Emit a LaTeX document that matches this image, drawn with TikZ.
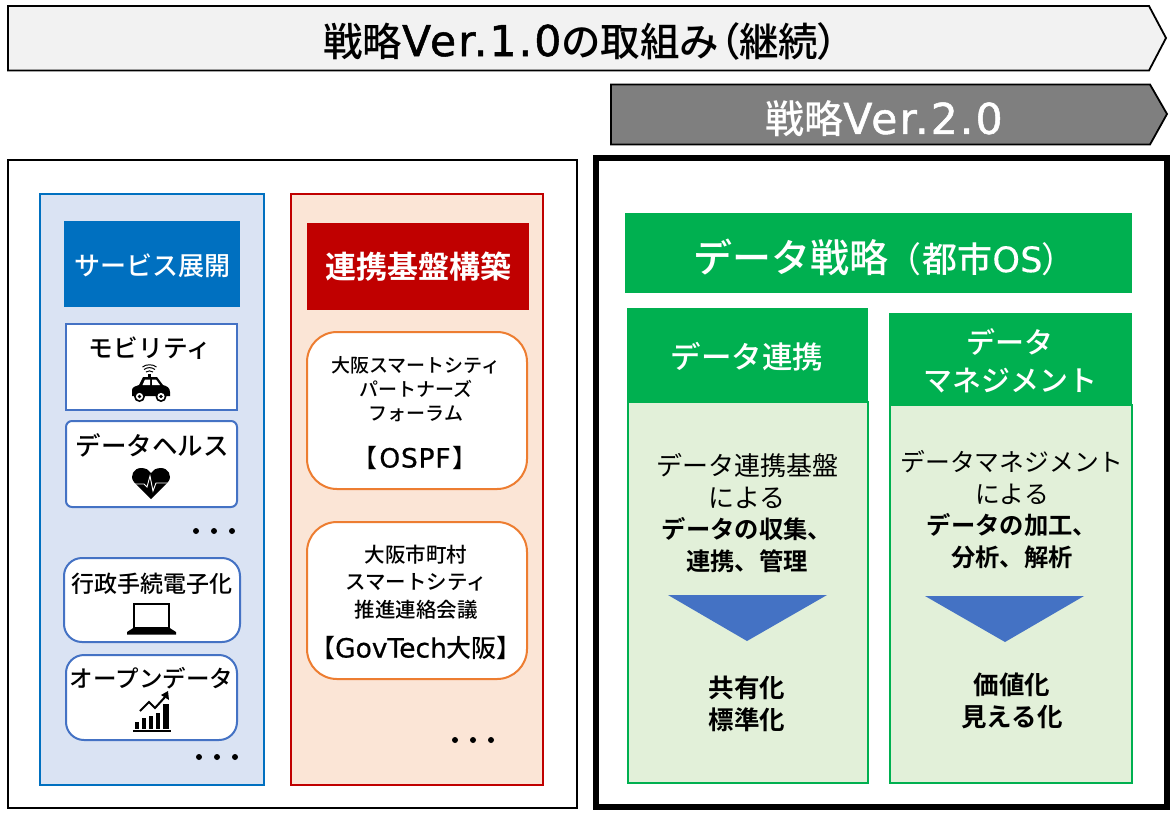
\documentclass[tikz,border=0pt]{standalone}
\usepackage{fontspec}
\setmainfont{Noto Sans CJK JP}[BoldFont={Noto Sans CJK JP Bold}]
\newfontfamily\medf{Noto Sans CJK JP Medium}
\newfontfamily\medp{Noto Sans CJK JP Medium}[RawFeature=+palt]
\newfontfamily\regp{Noto Sans CJK JP}[RawFeature=+palt]
\newfontfamily\latf{DejaVu Sans}[LetterSpace=5,FakeBold=1.2]
\newfontfamily\latg{DejaVu Sans}[LetterSpace=0,FakeBold=0.7]
\newfontfamily\lath{DejaVu Sans}[LetterSpace=3,FakeBold=0.7]
\newfontfamily\lati{DejaVu Sans}[LetterSpace=1,FakeBold=0.3]
\definecolor{bluepanel}{HTML}{DAE3F3}
\definecolor{blueedge}{HTML}{0070C0}
\definecolor{boxedge}{HTML}{4472C4}
\definecolor{redpanel}{HTML}{FBE5D6}
\definecolor{rededge}{HTML}{C00000}
\definecolor{orangeedge}{HTML}{ED7D31}
\definecolor{greenmain}{HTML}{00B050}
\definecolor{greenbody}{HTML}{E2F0D9}
\definecolor{arrowlight}{HTML}{F2F2F2}
\definecolor{arrowdark}{HTML}{7F7F7F}
\tikzset{
  txt/.style={inner sep=0pt,outer sep=0pt,align=center,text=black},
  lbl/.style={txt,font=\fontsize{#1}{#1}\selectfont\medf},
  dotm/.style={circle,fill=black,inner sep=0pt,minimum size=6pt},
  ibox/.style={draw=boxedge,line width=2pt,fill=white},
  obox/.style={draw=orangeedge,line width=2pt,fill=white,rounded corners=30pt},
}
\begin{document}
\begin{tikzpicture}[x=1pt,y=-1pt]
\useasboundingbox (0,0) rectangle (1172,815);
\fill[white] (0,0) rectangle (1172,815);
% top arrows
\draw[fill=arrowlight,line width=1.8pt] (8,6) -- (1149,6) -- (1166,38) -- (1149,70.5) -- (8,70.5) -- cycle;
\node[lbl=39.5] (t1) at (580.5,41) {戦略{\fontsize{42.5}{42.5}\selectfont\latf Ver.1.0}の取組み{\medp （}継続{\medp ）}};
\draw[fill=arrowdark,line width=1.8pt] (611,84.5) -- (1150,84.5) -- (1167,114) -- (1150,144.5) -- (611,144.5) -- cycle;
\node[lbl=39,text=white] (t2) at (884,119) {戦略{\fontsize{42.5}{42.5}\selectfont\latf Ver.2.0}};
% frames
\draw[line width=1.8pt] (8,160) rectangle (577,808);
\draw[line width=6pt] (596,158) rectangle (1167,807);
% blue panel
\draw[draw=blueedge,fill=bluepanel,line width=2pt] (40,193.5) rectangle (264,785);
\node[fill=blueedge,minimum width=176pt,minimum height=86pt,inner sep=0pt,text=white,font=\fontsize{26}{26}\selectfont\medf,text depth=0pt] (svc) at (152,264) {\raisebox{-2pt}{サービス展開}};
\draw[ibox] (66,323.5) rectangle (237,410);
\node[lbl=24.7] (mob) at (150,348) {モビリティ};
\draw[ibox,rounded corners=6pt] (66,421) rectangle (237,507);
\node[lbl=25.5] (dh) at (152,445) {データヘルス};
\node[dotm] (d1) at (196,531) {};
\node[dotm] (d2) at (214,531) {};
\node[dotm] (d3) at (232,531) {};
\draw[ibox,rounded corners=18pt] (64,558) rectangle (240,642);
\node[lbl=23] (gov) at (152,584) {行政手続電子化};
\draw[ibox,rounded corners=18pt] (66,655) rectangle (237,740);
\node[lbl=23.5] (od) at (151.5,678) {オープンデータ};
\node[dotm] (d4) at (199,757) {};
\node[dotm] (d5) at (217,757) {};
\node[dotm] (d6) at (235,757) {};
% car icon
\fill[black] (132,396) -- (132,390) .. controls (132,387) and (136,386) .. (139,385) -- (143,377) -- (157,377) -- (163,385) .. controls (167,386) and (170,388) .. (170,392) -- (170,396) -- cycle;
\fill[white] (145,379.5) -- (150,379.5) -- (150,385) -- (142.5,385) -- cycle (152,379.5) -- (156,379.5) -- (160,385) -- (152,385) -- cycle;
\fill[black] (148,374) rectangle (151,378);
\foreach \cx in {139.5,161}{
  \fill[black] (\cx,396.5) circle (5.5pt);
  \fill[white] (\cx,396.5) circle (3.6pt);
  \fill[black] (\cx,396.5) circle (1.8pt);
}
\draw[line width=1pt] (146,372) .. controls (148,370.5) and (151,370.5) .. (153,372);
\draw[line width=1pt] (144,369.5) .. controls (147,367) and (152,367) .. (155,369.5);
\draw[line width=1pt] (142.5,367) .. controls (146,364) and (153,364) .. (156.5,367);
% heart icon
\fill[black] (151,499) -- (134,482) .. controls (129,476) and (134,468) .. (141,468) .. controls (146,468) and (149,470) .. (151,473) .. controls (153,470) and (156,468) .. (161,468) .. controls (168,468) and (173,476) .. (168,482) -- cycle;
\draw[white,line width=0.9pt] (133,484) -- (144,484) -- (147,487) -- (150,476) -- (153,491) -- (156,483) -- (169,483);
% laptop icon
\draw[line width=2pt] (134,604) rectangle (169,628);
\fill[black] (127,632) -- (134,627.5) -- (169,627.5) -- (176,632) -- (176,634.5) -- (127,634.5) -- cycle;
% chart icon
\fill[black] (135,722) rectangle (139,729);
\fill[black] (142,718) rectangle (146,729);
\fill[black] (149,716) rectangle (153,729);
\fill[black] (156,713) rectangle (160,729);
\fill[black] (163,704) rectangle (169,729);
\fill[black] (133,729.5) rectangle (171,731.5);
\draw[line width=2pt] (140,711) -- (149,702) -- (155,708) -- (165,697);
\fill[black] (168,691) -- (169,700) -- (161,695) -- cycle;
% red panel
\draw[draw=rededge,fill=redpanel,line width=2pt] (290.5,193.5) rectangle (543,785);
\node[fill=rededge,minimum width=222pt,minimum height=87pt,inner sep=0pt,text=white,font=\fontsize{31}{31}\selectfont\bfseries] (rk) at (418,266.5) {\raisebox{-3pt}{連携基盤構築}};
\draw[obox] (307,332) rectangle (527,489);
\node[txt,font=\fontsize{19}{24}\selectfont\medf] (os) at (416,389) {大阪スマートシティ\\パートナーズ\\フォーラム};
\node[lbl=25] (osb) at (415,458) {{\medp 【}\hspace{2pt}{\fontsize{26.5}{26.5}\selectfont\lath OSPF}\hspace{2pt}{\medp 】}};
\draw[obox] (307,522) rectangle (527,679);
\node[txt,font=\fontsize{20.5}{27.5}\selectfont\medf] (gv) at (416,582) {大阪市町村\\スマートシティ\\推進連絡会議};
\node[lbl=25] (gvb) at (416,648) {{\medp 【}{\fontsize{26.5}{26.5}\selectfont\latg GovTech}大阪{\medp 】}};
\node[dotm] (d7) at (455,740) {};
\node[dotm] (d8) at (473,740) {};
\node[dotm] (d9) at (491,740) {};
% right
\node[fill=greenmain,minimum width=507pt,minimum height=80pt,inner sep=0pt] (dsbg) at (878.5,253) {};
\node[txt,text=white,font=\fontsize{39}{39}\selectfont\medf] (ds) at (877,257) {データ戦略\fontsize{35}{35}\selectfont\hspace{14pt}{\regp （}\hspace{2pt}都市{\lati OS}{\regp ）}};
\draw[draw=greenmain,fill=greenbody,line width=2pt] (627.5,402) rectangle (867.5,783);
\fill[greenmain] (627,308) rectangle (868,402);
\node[txt,text=white,font=\fontsize{30.5}{30.5}\selectfont\medf] (c1) at (747,357) {データ連携};
\draw[draw=greenmain,fill=greenbody,line width=2pt] (890,405) rectangle (1131.5,783);
\fill[greenmain] (889,313) rectangle (1132,405);
\node[txt,text=white,font=\fontsize{29}{38}\selectfont\medf] (c2) at (1010,361) {データ\\マネジメント};
\node[txt,font=\fontsize{26}{32}\selectfont] (b1) at (747,481) {データ連携基盤\\による};
\node[txt,font=\fontsize{24.3}{32}\selectfont\bfseries] (b2) at (747,545) {データの収集、\\連携、管理};
\fill[boxedge] (668,595) -- (827,595) -- (747,641) -- cycle;
\node[txt,font=\fontsize{25.5}{32}\selectfont\bfseries] (b3) at (747,704) {共有化\\標準化};
\node[txt,font=\fontsize{24.8}{32}\selectfont] (e1) at (1012,477) {データマネジメント\\による};
\node[txt,font=\fontsize{24.3}{32}\selectfont\bfseries] (e2) at (1012,541) {データの加工、\\分析、解析};
\fill[boxedge] (925,596) -- (1084,596) -- (1005,642) -- cycle;
\node[txt,font=\fontsize{25.5}{32}\selectfont\bfseries] (e3) at (1012,701) {価値化\\見える化};
\end{tikzpicture}
\end{document}
